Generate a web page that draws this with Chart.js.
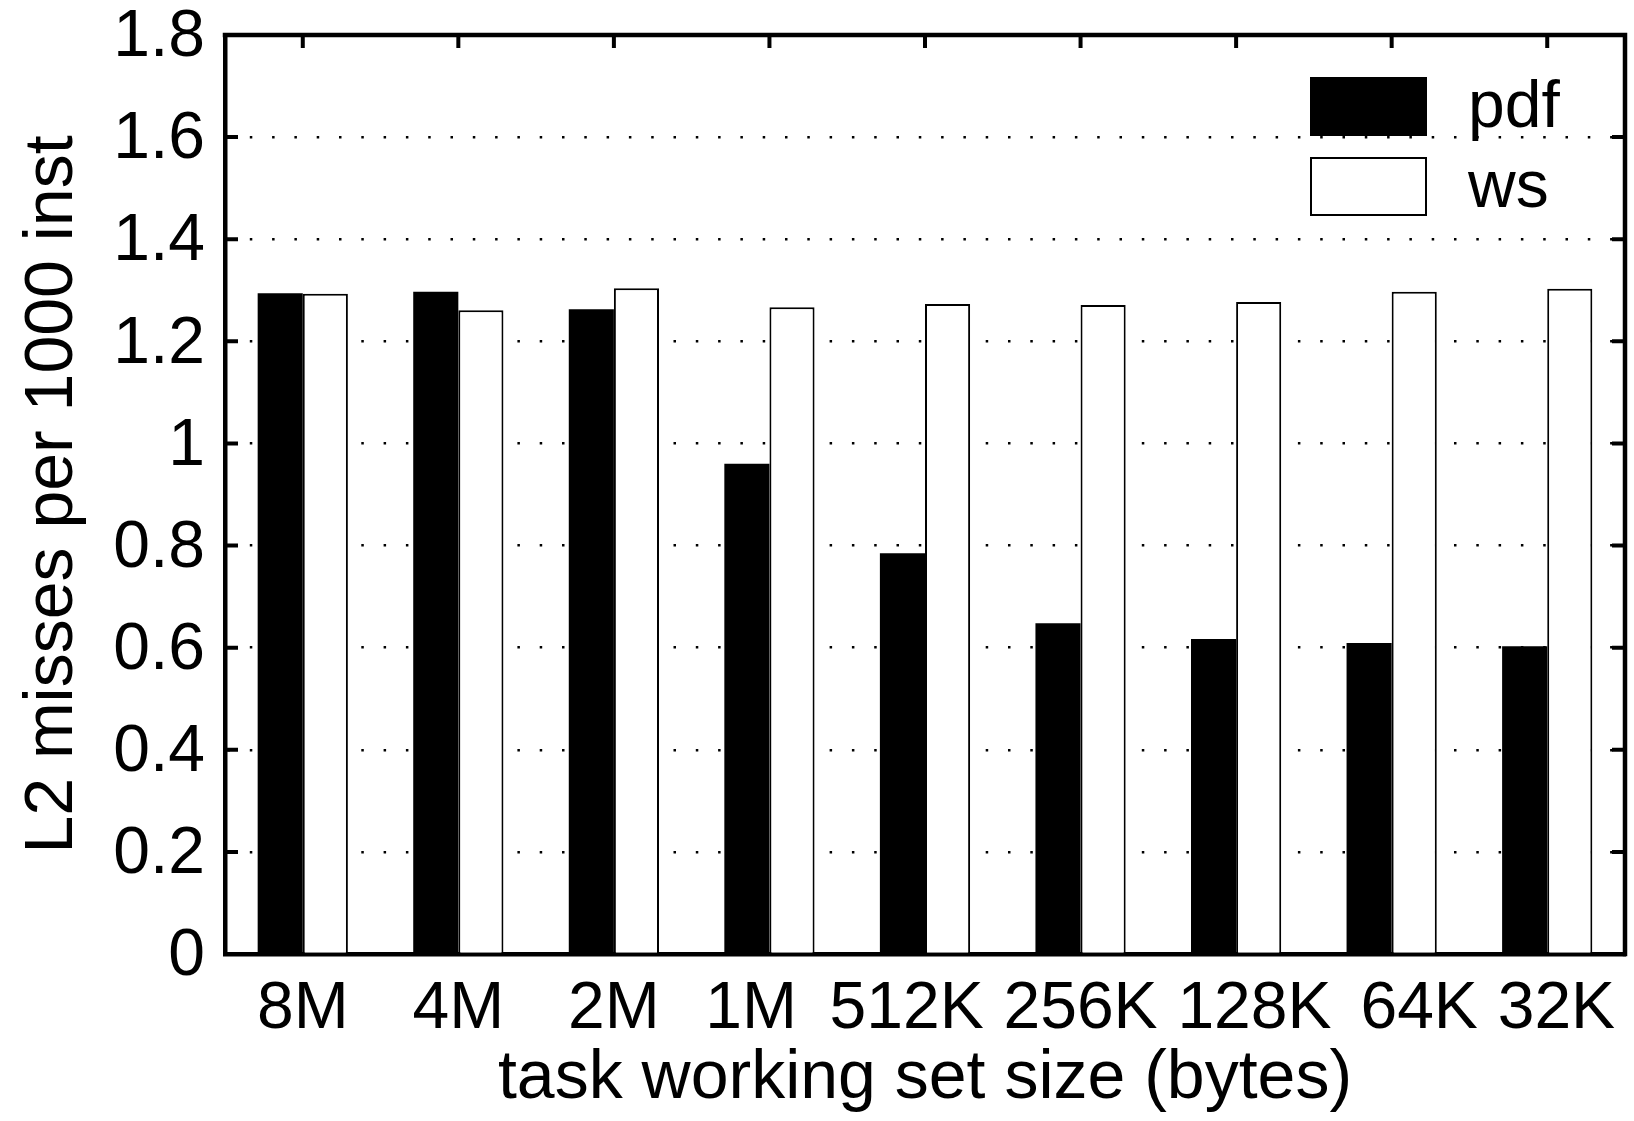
<!DOCTYPE html>
<html>
<head>
<meta charset="utf-8">
<script src="https://cdn.jsdelivr.net/npm/chart.js@4/dist/chart.umd.min.js"></script>
<style>
  html, body { margin: 0; padding: 0; background: #fff; }
  canvas { display: block; }
</style>
</head>
<body>
<canvas id="c" width="1634" height="1121" style="width:1634px;height:1121px"></canvas>
<script>
const categories = ['8M', '4M', '2M', '1M', '512K', '256K', '128K', '64K', '32K'];
const pdfValues = [1.294, 1.297, 1.263, 0.960, 0.785, 0.648, 0.617, 0.609, 0.603];
const wsValues = [1.293, 1.261, 1.304, 1.267, 1.273, 1.271, 1.277, 1.297, 1.303];
const yTickLabels = ['0', '0.2', '0.4', '0.6', '0.8', '1', '1.2', '1.4', '1.6', '1.8'];
const seriesNames = ['pdf', 'ws'];
const xTitle = 'task working set size (bytes)';
const yTitle = 'L2 misses per 1000 inst';

// label nudges (in space characters) so the category labels sit like the original's
const labelNudge = [0, 0, 0, -2, -2, 0, 2, 3, 1];

const FONT = "'Liberation Sans', Arial, Helvetica, sans-serif";
Chart.defaults.font.family = FONT;
Chart.defaults.color = '#000';

const framePlugin = {
  id: 'frame',
  afterDatasetsDraw(chart) {
    const { ctx, chartArea: a, scales: { x, y } } = chart;
    ctx.save();
    ctx.strokeStyle = '#000';
    ctx.lineWidth = 4.5;
    ctx.lineCap = 'square';
    ctx.beginPath();
    ctx.moveTo(a.left, a.top);
    ctx.lineTo(a.right, a.top);
    ctx.lineTo(a.right, a.bottom);
    ctx.stroke();
    ctx.lineCap = 'butt';
    ctx.lineWidth = 4;
    const tl = 13;
    y.ticks.forEach((t, i) => {
      const py = y.getPixelForTick(i);
      ctx.beginPath();
      ctx.moveTo(a.left, py); ctx.lineTo(a.left + tl, py);
      ctx.moveTo(a.right, py); ctx.lineTo(a.right - tl, py);
      ctx.stroke();
    });
    x.ticks.forEach((t, i) => {
      const px = x.getPixelForTick(i);
      ctx.beginPath();
      ctx.moveTo(px, a.top); ctx.lineTo(px, a.top + tl);
      ctx.stroke();
    });
    ctx.restore();
  }
};

const legendPlugin = {
  id: 'boxLegend',
  afterDatasetsDraw(chart) {
    const ctx = chart.ctx;
    const a = chart.chartArea;
    const boxX = a.right - 315, boxW = 117, boxH = 59;
    ctx.save();
    chart.data.datasets.forEach((ds, i) => {
      const top = a.top + 42 + i * 80;
      ctx.fillStyle = ds.backgroundColor;
      ctx.fillRect(boxX, top, boxW, boxH);
      if (ds.borderWidth) {
        ctx.lineWidth = 2;
        ctx.strokeStyle = ds.borderColor;
        ctx.strokeRect(boxX + 1, top + 1, boxW - 2, boxH - 2);
      }
      ctx.fillStyle = '#000';
      ctx.font = '66px ' + FONT;
      ctx.textBaseline = 'middle';
      ctx.textAlign = 'left';
      ctx.fillText(ds.label, boxX + 158, top + boxH / 2 + 2);
    });
    ctx.restore();
  }
};

new Chart(document.getElementById('c').getContext('2d'), {
  type: 'bar',
  data: {
    labels: categories,
    datasets: [
      { label: seriesNames[0], data: pdfValues, backgroundColor: '#000', borderColor: '#000', borderWidth: 0,
        categoryPercentage: 0.58, barPercentage: 1.0 },
      { label: seriesNames[1], data: wsValues, backgroundColor: '#fff', borderColor: '#000', borderWidth: 2,
        categoryPercentage: 0.58, barPercentage: 1.0 }
    ]
  },
  options: {
    responsive: false,
    animation: false,
    devicePixelRatio: 1,
    layout: { padding: { left: 0, top: 35, right: 9, bottom: 0 } },
    plugins: { legend: { display: false }, tooltip: { enabled: false } },
    scales: {
      x: {
        grid: { display: false, drawTicks: false },
        border: { display: true, width: 4.5, color: '#000' },
        ticks: { font: { size: 66 }, padding: 16, maxRotation: 0, minRotation: 0, autoSkip: false, color: '#000',
                 callback: (v, i) => {
                   const n = labelNudge[i];
                   return (n > 0 ? ' '.repeat(n) : '') + categories[i] + (n < 0 ? ' '.repeat(-n) : '');
                 } },
        title: { display: true, text: xTitle, font: { size: 68, lineHeight: 1 }, padding: { top: 0, bottom: 8 }, color: '#000' },
        afterFit(s) { s.height = 1121 - 954; }
      },
      y: {
        min: 0, max: 1.8,
        ticks: { stepSize: 0.2, font: { size: 66, lineHeight: 0.2 }, padding: 20, labelOffset: 3, color: '#000',
                 callback: (v, i) => yTickLabels[i] },
        grid: { drawTicks: false, color: '#000', lineWidth: 2.5 },
        border: { display: true, width: 4.5, color: '#000', dash: [2.5, 19.8] },
        title: { display: true, text: yTitle, font: { size: 68, lineHeight: 1 }, padding: { top: 19, bottom: 0 }, color: '#000' },
        afterFit(s) { s.width = 225; }
      }
    }
  },
  plugins: [framePlugin, legendPlugin]
});
</script>
</body>
</html>
